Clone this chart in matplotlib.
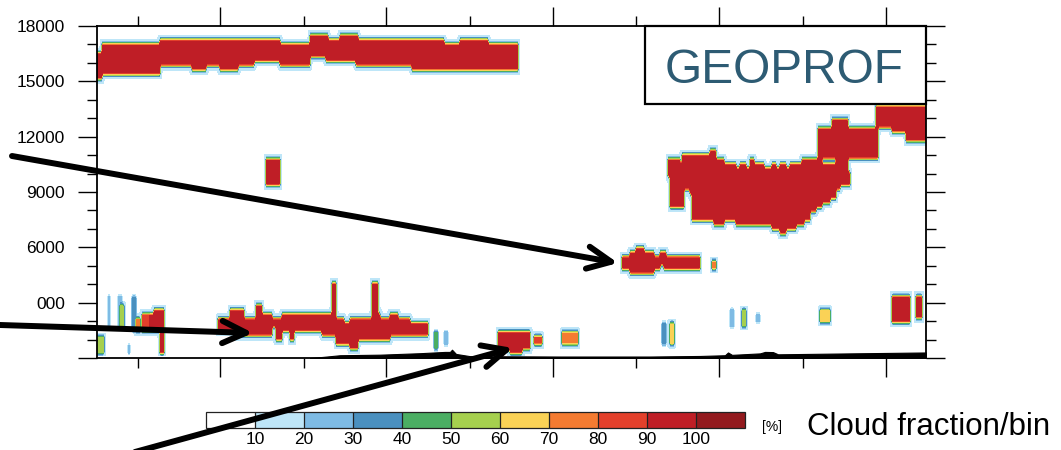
import numpy as np
import matplotlib
matplotlib.use("Agg")
import matplotlib.pyplot as plt
from matplotlib.patches import Rectangle, FancyArrowPatch

plt.rcParams['font.family'] = ['Liberation Sans', 'DejaVu Sans']

# ---------------- data ----------------
levels = [0, 10, 20, 30, 40, 50, 60, 70, 80, 90, 100, 110]
band_colors = ['#FFFFFF', '#BEE6F8', '#7EBBE4', '#4A90BF', '#4BAE63', '#A6D04E',
               '#FAD256', '#F47B31', '#E3402B', '#BF1E26', '#931A1E']
cbar_ticks = [10, 20, 30, 40, 50, 60, 70, 80, 90, 100]

y_ticks = [0, 3000, 6000, 9000, 12000, 15000, 18000]
y_ticklabels = ['', '000', '6000', '9000', '12000', '15000', '18000']
x_major = [123, 289.5, 456, 622.5, 789]
x_minor = [40.5, 206.5, 373, 539.5, 706]

# cloud layers: (profile start, profile end, base [m], top [m]) -> ~95 %
cirrus = [(0, 5, 15250, 16430), (5, 55, 15600, 16800), (55, 63, 15400, 16800),
          (63, 80, 16050, 17060), (80, 95, 15900, 17200), (95, 108, 15670, 17080),
          (108, 123, 16000, 17170), (123, 140, 15830, 17080), (140, 156, 16050, 17080),
          (156, 183, 16250, 17130), (183, 213, 15990, 16970), (213, 230, 16340, 17280),
          (230, 243, 16250, 17170), (243, 260, 16200, 17280), (260, 300, 16070, 17170),
          (300, 316, 15980, 17170), (316, 346, 15830, 17080), (346, 363, 15710, 17030),
          (363, 391, 15650, 17200), (391, 406, 15650, 16880), (406, 421, 15710, 16970)]
block = [(169, 183, 9490, 10570)]
anvil = [(571, 574, 9920, 10740), (574, 583, 8390, 10740), (583, 586, 8390, 10470),
         (586, 594, 9290, 10830), (594, 596, 9110, 10740), (596, 606, 7570, 10830),
         (606, 613, 7480, 10920), (613, 618, 7570, 11100), (618, 626, 7390, 10560),
         (626, 639, 7480, 10470), (639, 643, 7300, 10290), (643, 649, 7300, 10470),
         (649, 653, 7300, 10100), (653, 656, 7210, 10740), (656, 666, 7210, 10370),
         (666, 676, 7210, 10190), (676, 679, 7120, 10470), (679, 684, 7030, 10190),
         (684, 689, 6760, 10370), (689, 693, 7120, 10290), (693, 699, 7120, 10470),
         (699, 706, 7390, 10470), (706, 713, 7660, 10650), (713, 719, 7930, 10650),
         (719, 724, 8300, 10740), (724, 733, 8480, 10370), (733, 739, 8840, 10370),
         (739, 743, 9200, 10370), (743, 753, 9400, 9920), (740, 750, 9900, 11100),
         (721, 780, 11020, 12460), (735, 750, 11020, 12730), (780, 796, 12500, 13620),
         (796, 800, 12270, 13620), (800, 810, 12450, 13620), (810, 829, 12000, 13450)]
mid = [(526, 533, 4860, 5490), (533, 540, 4590, 5590), (540, 546, 4590, 5760),
       (546, 556, 4680, 5590), (556, 563, 4950, 5490), (563, 568, 5100, 5590),
       (568, 590, 5040, 5490), (590, 596, 4860, 5400), (596, 603, 5040, 5310)]
low = [(121, 133, 1520, 2060), (133, 140, 1520, 2550), (140, 146, 1430, 2420),
       (146, 160, 1340, 2150), (160, 165, 1250, 2780), (165, 175, 1340, 2240),
       (175, 180, 1700, 2150), (180, 185, 1070, 2150), (185, 193, 1610, 2240),
       (193, 196, 1160, 2240), (196, 226, 1520, 2240), (226, 236, 1430, 2330),
       (236, 239, 1340, 4050), (239, 246, 880, 2060), (246, 253, 800, 1700),
       (253, 260, 700, 2150), (260, 263, 1070, 2150), (263, 276, 980, 1970),
       (276, 280, 980, 4050), (280, 283, 1070, 2240), (283, 293, 1070, 1970),
       (293, 300, 1250, 2330), (300, 313, 1250, 2150), (313, 331, 1250, 1700)]
# small features: (start, end, base, top, cloud fraction %)
small = [(0, 6, 270, 980, 60), (11, 13, 1790, 3250, 30), (21, 24, 1790, 3150, 30),
         (24, 26, 1790, 2800, 60), (35, 38, 1520, 3250, 35), (31, 32, 380, 600, 30),
         (40, 43, 1680, 2060, 80), (46, 53, 1680, 2170, 90), (53, 58, 1630, 2240, 95),
         (58, 63, 1520, 2490, 95), (63, 67, 330, 2600, 95), (338, 341, 700, 1360, 50),
         (348, 350, 810, 1250, 30), (401, 433, 600, 1360, 95), (413, 425, 430, 1360, 95),
         (438, 445, 870, 1190, 85), (465, 481, 810, 1250, 75), (565, 568, 920, 1680, 40),
         (573, 576, 810, 1700, 70), (616, 618, 4860, 5220, 75), (634, 636, 1900, 2440, 30),
         (646, 648, 1900, 2440, 60), (660, 662, 2000, 2300, 25), (723, 733, 1950, 2490, 70),
         (795, 813, 1950, 3300, 95), (820, 825, 2170, 3150, 95)]
# surface elevation (profile, m)
surf_x = [213, 226, 243, 283, 323, 348, 353, 355, 359, 373, 463, 553, 603, 628,
          631, 635, 663, 668, 676, 681, 753, 829]
surf_h = [0, 60, 150, 180, 260, 330, 330, 450, 220, 100, 80, 80, 110, 150,
          300, 170, 250, 330, 320, 200, 250, 300]

# annotation arrows in figure pixels (tail, tip), y from top
arrows = [((12, 156), (618, 263)), ((0, 325), (253, 333)), ((135, 452), (513, 348))]

# ---------------- grid ----------------
xc = np.arange(0, 831, 2.0)
zc = np.arange(120, 18000, 240.0)
X, Z = np.meshgrid(xc, zc)
cf = np.zeros_like(X)


def paint(segs, val=None):
    for s in segs:
        x0, x1, b, t = s[:4]
        v = s[4] if val is None else val
        m = (X >= x0) & (X <= x1) & (Z >= b - 120) & (Z <= t + 120)
        cf[m] = np.maximum(cf[m], v)


for group in (cirrus, block, anvil, mid, low):
    paint(group, 95)
paint(small)

# faint rim of partially filled bins around each cloud (edge rendering)
pad = np.pad(cf, 1)
nb = np.max(np.stack([pad[1 + dz:pad.shape[0] - 1 + dz, 1 + dx:pad.shape[1] - 1 + dx]
                      for dz in (-1, 0, 1) for dx in (-1, 0, 1)]), axis=0)
cf = np.where(cf == 0, 0.19 * nb, cf)

# ---------------- figure ----------------
W, H = 1061, 450
fig = plt.figure(figsize=(W / 100, H / 100), dpi=100)
ax = fig.add_axes([97 / W, 1 - 358 / H, (926 - 97) / W, (358 - 26) / H])

cs = ax.contourf(xc, zc, cf, levels=levels, colors=band_colors, zorder=1)
ax.fill_between(surf_x, 0, surf_h, color='black', lw=0.8, zorder=3)

ax.set_xlim(0, 829)
ax.set_ylim(0, 18000)
ax.set_xticks(x_major)
ax.set_xticks(x_minor, minor=True)
ax.set_yticks(y_ticks)
ax.set_yticks(np.arange(0, 18001, 1000), minor=True)
ax.set_yticklabels(y_ticklabels)
ax.tick_params(axis='both', which='major', direction='out', length=14, width=1.0,
               top=True, right=True, labelbottom=False, labelsize=12.5, pad=9)
ax.tick_params(axis='both', which='minor', direction='out', length=7, width=1.0,
               top=True, right=True)
for sp in ax.spines.values():
    sp.set_linewidth(1.3)

# GEOPROF box
ax.add_patch(Rectangle(((645 - 97) / 829, (358 - 104) / 332), 1 - (645 - 97) / 829,
                       1 - (358 - 104) / 332, transform=ax.transAxes, facecolor='white',
                       edgecolor='black', lw=1.6, zorder=5, clip_on=False))
ax.text((784 - 97) / 829, (358 - 83) / 332, 'GEOPROF', transform=ax.transAxes,
        ha='center', va='baseline', fontsize=34.5, color='#2D5B73', zorder=6)

# colorbar
cax = fig.add_axes([206 / W, 1 - 428 / H, 539 / W, 16 / H])
cb = fig.colorbar(cs, cax=cax, orientation='horizontal', ticks=cbar_ticks, drawedges=True)
cb.outline.set_linewidth(0.9)
cb.outline.set_edgecolor('#222222')
cb.dividers.set_color('#222222')
cb.dividers.set_linewidth(0.9)
cax.tick_params(length=0, labelsize=12.5, pad=3)
fig.text(762 / W, 1 - 427 / H, '[%]', fontsize=10, va='center', ha='left')
fig.text(807 / W, 1 - 435 / H, 'Cloud fraction/bin', fontsize=22.5, va='baseline', ha='left')

# arrows
for (tx, ty), (hx, hy) in arrows:
    arr = FancyArrowPatch((tx / W, 1 - ty / H), (hx / W, 1 - hy / H),
                          transform=fig.transFigure,
                          arrowstyle='->,head_length=17,head_width=8', mutation_scale=1,
                          lw=4.3, color='black', shrinkA=0, shrinkB=0,
                          capstyle='round', joinstyle='round', zorder=20)
    fig.add_artist(arr)

fig.savefig('out.png', dpi=100)
